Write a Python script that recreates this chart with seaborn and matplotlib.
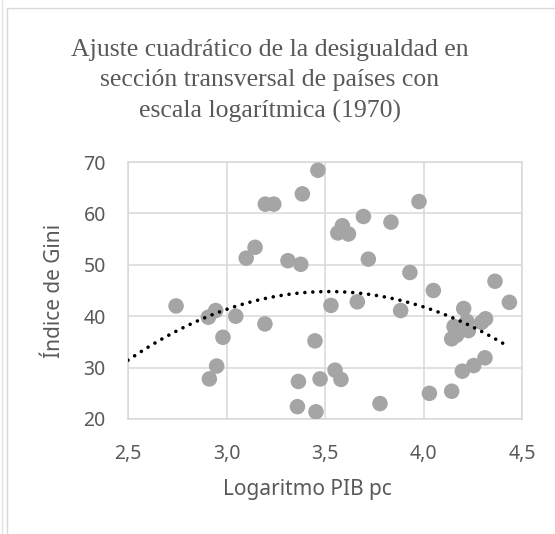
import numpy as np
import pandas as pd
import matplotlib
matplotlib.use("Agg")
import matplotlib.pyplot as plt
from matplotlib.lines import Line2D
import seaborn as sns

# Data
log_gdp = [2.744, 2.908, 2.945, 2.982, 3.047, 2.950, 2.913, 3.100, 3.145, 3.197,
           3.240, 3.195, 3.312, 3.377, 3.385, 3.464, 3.449, 3.365, 3.475, 3.360,
           3.454, 3.530, 3.551, 3.581, 3.588, 3.565, 3.619, 3.695, 3.720, 3.664,
           3.779, 3.835, 3.884, 3.931, 3.977, 4.050, 4.030, 4.143, 4.197, 4.255,
           4.312, 4.363, 4.436, 4.204, 4.155, 4.143, 4.168, 4.220, 4.228, 4.295,
           4.315]
gini = [42.0, 39.8, 41.1, 35.9, 40.0, 30.3, 27.8, 51.3, 53.4, 61.8,
        61.8, 38.5, 50.8, 50.1, 63.8, 68.4, 35.2, 27.3, 27.8, 22.4,
        21.4, 42.1, 29.5, 27.7, 57.6, 56.2, 56.0, 59.4, 51.1, 42.8,
        23.0, 58.3, 41.1, 48.5, 62.3, 45.0, 25.0, 25.4, 29.3, 30.4,
        31.9, 46.8, 42.7, 41.5, 38.0, 35.6, 36.3, 39.0, 37.2, 38.8,
        39.5]
x_ticks = [2.5, 3.0, 3.5, 4.0, 4.5]
x_tick_labels = ["2,5", "3,0", "3,5", "4,0", "4,5"]
y_ticks = [20, 30, 40, 50, 60, 70]
trend_start = 2.5

title = "Ajuste cuadrático de la desigualdad en\nsección transversal de países con\nescala logarítmica (1970)"
xlabel = "Logaritmo PIB pc"
ylabel = "Índice de Gini"

df = pd.DataFrame({"x": log_gdp, "y": gini})

sns.set_style("white")
plt.rcParams["font.family"] = ["Noto Sans", "DejaVu Sans"]

W, H = 555, 534
fig = plt.figure(figsize=(W / 100, H / 100), dpi=100)
ax = fig.add_axes([128 / W, 1 - 419 / H, (522 - 128) / W, (419 - 162) / H])

grid_c = "#D9D9D9"
txt_c = "#595959"

ax.set_xlim(2.5, 4.5)
ax.set_ylim(20, 70)
ax.set_xticks(x_ticks)
ax.set_xticklabels(x_tick_labels)
ax.set_yticks(y_ticks)
ax.grid(True, color=grid_c, linewidth=1.1, zorder=0)
ax.set_axisbelow(True)
for s in ax.spines.values():
    s.set_visible(True)
    s.set_color(grid_c)
    s.set_linewidth(1.1)

sns.scatterplot(data=df, x="x", y="y", ax=ax, s=125, color="#A5A5A5",
                edgecolor="none", linewidth=0, zorder=3, legend=False)

# quadratic trend fitted to the data
coef = np.polyfit(df["x"], df["y"], 2)
xs = np.linspace(trend_start, max(log_gdp), 200)
trend = pd.DataFrame({"x": xs, "y": np.polyval(coef, xs)})
sns.lineplot(data=trend, x="x", y="y", ax=ax, color="black", linewidth=2.6,
             linestyle=(0, (0.01, 2.2)), dash_capstyle="round", zorder=4)

ax.tick_params(axis="both", length=0, labelsize=14, labelcolor=txt_c)
ax.tick_params(axis="x", pad=18)
ax.tick_params(axis="y", pad=16)
ax.set_xlabel("")
ax.set_ylabel("")

fig.text(307 / W, 1 - 490 / H, xlabel, ha="center", va="center",
         fontsize=15, color=txt_c)
fig.text(55 / W, 1 - 291 / H, ylabel, ha="center", va="center",
         fontsize=15, color=txt_c, rotation=90)
fig.text(270 / W, 1 - 81 / H, title, ha="center", va="center",
         fontsize=18.5, color=txt_c, family=["Liberation Serif"],
         linespacing=1.5)

# chart border lines (partially visible in reference)
fig.add_artist(Line2D([7 / W, 7 / W], [0, 1 - 8 / H], transform=fig.transFigure,
                      color="#D9D9D9", linewidth=1.0))
fig.add_artist(Line2D([7 / W, 1], [1 - 8 / H, 1 - 8 / H], transform=fig.transFigure,
                      color="#D9D9D9", linewidth=1.0))
fig.add_artist(Line2D([2 / W, 2 / W], [0, 1], transform=fig.transFigure,
                      color="#E3E3E3", linewidth=1.0))

fig.savefig("out.png", dpi=100)
